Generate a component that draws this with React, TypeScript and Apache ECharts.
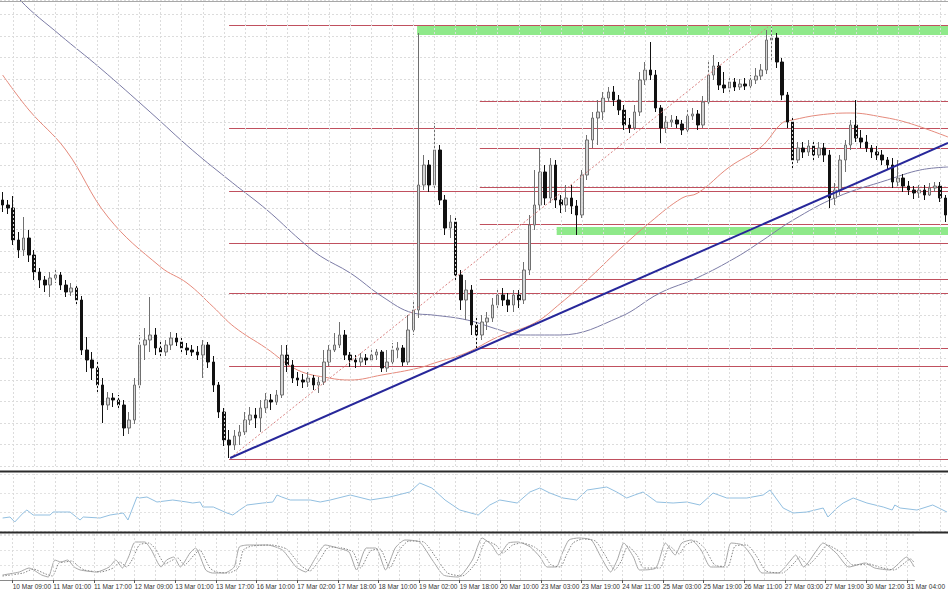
import React, { useEffect, useRef } from "react";
import * as echarts from "echarts";

// ---------- data (price units: higher = up) ----------
const BAR_COUNT = 180;

const tickLabels = [
  "10 Mar 09:00", "11 Mar 01:00", "11 Mar 17:00", "12 Mar 09:00", "13 Mar 01:00",
  "13 Mar 17:00", "16 Mar 10:00", "17 Mar 02:00", "17 Mar 18:00", "18 Mar 10:00",
  "19 Mar 02:00", "19 Mar 18:00", "20 Mar 10:00", "23 Mar 03:00", "23 Mar 19:00",
  "24 Mar 11:00", "25 Mar 03:00", "25 Mar 19:00", "26 Mar 11:00", "27 Mar 03:00",
  "27 Mar 19:00", "30 Mar 12:00", "31 Mar 04:00",
];

const opens = [
  300, 295, 292, 260, 250, 262, 245, 228, 220, 215,
  222, 225, 215, 208, 212, 200, 150, 140, 132, 115,
  95, 102, 100, 95, 72, 80, 115, 155, 160, 165,
  152, 148, 155, 162, 158, 152, 150, 148, 145, 155,
  138, 115, 88, 60, 55, 64, 68, 80, 85, 82,
  92, 100, 98, 105, 145, 135, 122, 120, 118, 122,
  115, 118, 138, 150, 155, 165, 145, 140, 138, 142,
  140, 145, 148, 132, 138, 150, 152, 138, 170, 190,
  315, 335, 315, 350, 300, 272, 278, 225, 200, 210,
  175, 165, 178, 182, 195, 205, 200, 195, 205, 200,
  230, 275, 295, 328, 302, 335, 300, 295, 302, 294,
  285, 325, 360, 382, 388, 402, 408, 400, 390, 375,
  372, 388, 420, 430, 425, 392, 372, 378, 380, 376,
  370, 384, 386, 375, 398, 425, 434, 415, 412, 418,
  413, 416, 414, 420, 424, 430, 460, 462, 438, 405,
  378, 340, 352, 348, 354, 345, 352, 345, 302, 310,
  340, 355, 375, 362, 358, 352, 348, 345, 340, 335,
  318, 322, 314, 310, 307, 310, 305, 312, 314, 302,
];

const closes = [
  295, 292, 260, 250, 262, 245, 228, 220, 215, 222,
  225, 215, 208, 212, 200, 150, 140, 132, 115, 95,
  102, 100, 95, 72, 80, 115, 155, 160, 165, 152,
  148, 155, 162, 158, 152, 150, 148, 145, 155, 138,
  115, 88, 60, 55, 64, 68, 80, 85, 82, 92,
  100, 98, 105, 145, 135, 122, 120, 118, 122, 115,
  118, 138, 150, 155, 165, 145, 140, 138, 142, 140,
  145, 148, 132, 138, 150, 152, 138, 170, 190, 315,
  335, 315, 350, 300, 272, 278, 225, 200, 210, 175,
  165, 178, 182, 195, 205, 200, 195, 205, 200, 230,
  275, 295, 328, 302, 335, 300, 295, 302, 294, 285,
  325, 360, 382, 388, 402, 408, 400, 390, 375, 372,
  388, 420, 430, 425, 392, 372, 378, 380, 376, 370,
  384, 386, 375, 398, 425, 434, 415, 412, 418, 413,
  416, 414, 420, 424, 430, 460, 462, 438, 405, 378,
  340, 352, 348, 354, 345, 352, 345, 302, 310, 340,
  355, 375, 362, 358, 352, 348, 345, 340, 335, 318,
  322, 314, 310, 307, 310, 305, 312, 314, 302, 285,
];

const highs = [
  308, 300, 304, 268, 283, 270, 250, 232, 224, 228,
  230, 228, 220, 217, 215, 204, 163, 148, 140, 122,
  108, 107, 105, 100, 88, 122, 165, 172, 203, 172,
  160, 160, 168, 167, 162, 157, 155, 154, 160, 158,
  144, 118, 92, 70, 70, 75, 88, 93, 92, 100,
  107, 106, 110, 155, 155, 140, 128, 126, 128, 125,
  123, 150, 155, 167, 178, 170, 148, 145, 147, 146,
  150, 151, 150, 150, 157, 158, 155, 185, 200, 467,
  345, 340, 377, 355, 305, 285, 282, 230, 220, 215,
  182, 185, 188, 202, 210, 212, 207, 210, 210, 238,
  285, 330, 352, 335, 342, 340, 305, 315, 315, 300,
  330, 365, 388, 400, 408, 413, 414, 405, 395, 382,
  395, 428, 438, 458, 430, 395, 384, 385, 384, 380,
  390, 392, 390, 404, 440, 445, 438, 428, 424, 422,
  421, 422, 425, 432, 436, 470, 473, 467, 442, 408,
  382, 358, 358, 360, 359, 358, 357, 350, 317, 345,
  360, 380, 400, 370, 365, 355, 354, 350, 343, 342,
  340, 326, 319, 314, 315, 315, 317, 318, 318, 305,
];

const lows = [
  288, 286, 255, 242, 244, 238, 220, 212, 208, 203,
  217, 210, 203, 204, 195, 145, 128, 120, 108, 77,
  90, 93, 90, 64, 66, 76, 110, 140, 148, 145,
  142, 144, 150, 154, 148, 145, 144, 140, 122, 132,
  108, 82, 54, 42, 50, 55, 65, 75, 72, 68,
  87, 90, 95, 102, 128, 117, 114, 112, 113, 110,
  107, 115, 134, 148, 152, 140, 133, 132, 134, 135,
  138, 140, 128, 128, 135, 142, 134, 135, 165, 182,
  310, 308, 310, 295, 265, 262, 220, 190, 180, 165,
  152, 160, 170, 178, 190, 194, 188, 188, 192, 196,
  225, 270, 290, 295, 297, 292, 287, 288, 286, 265,
  282, 320, 352, 355, 380, 398, 394, 385, 370, 367,
  370, 384, 415, 420, 388, 357, 367, 373, 372, 365,
  366, 380, 370, 372, 395, 420, 410, 407, 408, 409,
  410, 410, 412, 416, 420, 426, 440, 432, 400, 372,
  332, 337, 342, 344, 340, 342, 338, 292, 295, 305,
  328, 350, 358, 352, 348, 342, 340, 335, 330, 312,
  314, 308, 305, 301, 302, 300, 304, 308, 298, 278,
];

// moving averages: [bar index, value]
const redMA = [
  [0, 425], [5, 390], [12, 350], [20, 283], [30, 233], [35, 217], [40, 193], [44, 173],
  [50, 152], [56, 130], [62, 122], [66, 120], [72, 125], [79, 132], [82, 137], [88, 147],
  [94, 163], [101, 177], [106, 197], [111, 220], [117, 250], [123, 278], [129, 302],
  [132, 307], [138, 333], [144, 353], [148, 377], [150, 380], [155, 385], [161, 387],
  [167, 383], [172, 377], [179.5, 363],
];
const slateMA = [
  [0, 525], [3.3, 500], [10.9, 465], [18.5, 432], [28, 388], [36, 350], [43.7, 317],
  [50.2, 290], [56.5, 260], [60.3, 244], [66, 227], [72.2, 203], [77.9, 187], [81.7, 185],
  [88.2, 180], [94.4, 170], [98.2, 165], [105.8, 165], [117.2, 183], [124.8, 207],
  [131.8, 222], [139.4, 243], [144.4, 260], [150.1, 280], [158.4, 303], [168, 320],
  [174.2, 330], [179.5, 333],
];

const trendLine = [[43.2, 42], [179.5, 357]];
const fibDiagonal = [[43.2, 42], [145.3, 473]];

const fibAStart = 43;
const fibALevels = [475, 372, 309, 257.5, 207, 134, 41];
const fibBStart = 90.6;
const fibBLevels = [399, 352, 313, 276, 221, 152];

// green zones: [start bar, top, bottom]
const greenZones = [
  [78.7, 474, 465],
  [105.2, 273, 265],
];

const rsiLine = [
  [0, 13], [1.4, 14], [2.3, 9], [3.9, 18], [4.6, 21], [5.8, 16], [9, 16], [9.6, 19],
  [12.8, 19], [14.7, 11], [15.3, 14], [18.5, 13], [20.4, 16], [22.9, 18], [23.8, 11],
  [25.5, 34], [26, 33], [27.4, 34], [29.3, 29], [32.3, 31], [35, 29], [36.1, 28],
  [37.5, 29], [38, 24], [40, 24], [42.6, 18], [43.7, 16], [45, 21], [46.4, 26],
  [49.4, 28], [51.3, 29], [52.1, 36], [53, 34], [54.6, 31], [58.4, 31], [60.3, 29],
  [62.2, 31], [66, 36], [69.8, 31], [73.5, 34], [77.3, 39], [79.2, 48], [81.5, 43],
  [84, 31], [86.8, 21], [90.3, 16], [92.5, 26], [94.4, 31], [97.7, 28], [100.1, 39],
  [102, 43], [103.9, 38], [106.4, 33], [109, 31], [111, 41], [114.7, 44], [116.6, 39],
  [118.5, 33], [120, 36], [121.6, 39], [124.2, 29], [127.3, 28], [129.9, 29],
  [132.4, 26], [134.9, 38], [137.5, 33], [141.3, 33], [144.4, 36], [145.7, 41],
  [148.2, 23], [150.1, 18], [152.7, 19], [155.8, 23], [156.7, 14], [158.4, 23],
  [159.6, 28], [161.5, 33], [164.1, 28], [167.2, 24], [168.9, 21], [169.4, 26],
  [170.4, 23], [173.6, 21], [176.6, 26], [179.3, 19],
];

const stochMain = [
  [0, 5], [3.3, 8], [5.2, 12], [7.7, 5], [9, 3], [10.3, 20], [11.5, 18], [12.8, 20],
  [14.1, 13], [15.3, 10], [18.5, 8], [21, 13], [22.3, 20], [23.6, 12], [24.8, 23],
  [26.1, 38], [28, 38], [29.3, 30], [31.2, 13], [32.3, 20], [33.7, 23], [35, 13],
  [36.9, 27], [38, 32], [40, 10], [41.3, 7], [43.7, 7], [45.6, 13], [46.6, 33],
  [48.3, 35], [52.1, 35], [55.1, 30], [57.8, 13], [59.7, 8], [61.6, 22], [63.5, 35],
  [66, 32], [68.2, 28], [69.7, 10], [71.6, 32], [73.5, 32], [75.4, 10], [77.3, 32],
  [79.2, 40], [82.1, 38], [84.6, 20], [86.8, 5], [89.7, 3], [92.5, 20], [94.4, 42],
  [96.3, 35], [97.7, 25], [99.6, 37], [101.5, 38], [103.9, 33], [105.8, 23],
  [107.2, 13], [109, 13], [110.2, 27], [111.5, 40], [113.4, 42], [115.9, 40],
  [117.8, 23], [119.7, 8], [121, 20], [122.3, 37], [124.2, 23], [125.4, 10],
  [128.6, 12], [130.5, 37], [132.4, 25], [133.7, 37], [135.6, 40], [137.5, 30],
  [139.4, 13], [141.9, 13], [143.4, 37], [145.7, 35], [147.6, 23], [149.5, 7],
  [152.7, 7], [155.2, 20], [156.1, 25], [157.7, 13], [160.3, 30], [161.5, 37],
  [164.1, 27], [166.6, 13], [169.8, 17], [171.7, 12], [174.7, 10], [178, 23], [179.5, 13],
];

const stochSignal = [
  [0, 4], [4.1, 7], [6, 11], [8.5, 6], [9.8, 4], [11.1, 17], [12.3, 18], [13.6, 19],
  [14.9, 14], [16.1, 10], [19.3, 8], [21.8, 12], [23.1, 18], [24.4, 13], [25.6, 21],
  [26.9, 35], [28.8, 37], [30.1, 31], [32, 16], [33.1, 19], [34.5, 22], [35.8, 15],
  [37.7, 25], [38.8, 30], [40.8, 12], [42.1, 8], [44.5, 7], [46.4, 12], [47.4, 30],
  [49.1, 34], [52.9, 35], [55.9, 31], [58.6, 15], [60.5, 9], [62.4, 20], [64.3, 33],
  [66.8, 32], [69, 28], [70.5, 12], [72.4, 29], [74.3, 31], [76.2, 12], [78.1, 30],
  [80, 39], [82.9, 38], [85.4, 22], [87.6, 7], [90.5, 4], [93.3, 18], [95.2, 39],
  [97.1, 35], [98.5, 27], [100.4, 35], [102.3, 37], [104.7, 33], [106.6, 25],
  [108, 15], [109.8, 13], [111, 25], [112.3, 37], [114.2, 41], [116.7, 39],
  [118.6, 25], [120.5, 10], [121.8, 19], [123.1, 34], [125, 24], [126.2, 12],
  [129.4, 12], [131.3, 34], [133.2, 26], [134.5, 35], [136.4, 39], [138.3, 31],
  [140.2, 15], [142.7, 13], [144.2, 34], [146.5, 35], [148.4, 24], [150.3, 9],
  [153.5, 7], [156, 18], [156.9, 23], [158.5, 15], [161.1, 28], [162.3, 35],
  [164.9, 28], [167.4, 15], [170.6, 16], [172.5, 13], [175.5, 10], [178.8, 21], [179.5, 17],
];

// ---------- chart ----------
const XMIN = -0.5;
const XMAX = BAR_COUNT - 0.5;

export default function App() {
  const ref = useRef<HTMLDivElement>(null);

  useEffect(() => {
    const el = ref.current;
    if (!el) return;
    const chart = echarts.init(el, null, { renderer: "svg" });

    const categories = Array.from({ length: BAR_COUNT }, (_, i) => String(i));
    const isLabelBar = (i: number) => i >= 2 && (i - 2) % 8 === 0;
    const vGridTicks: number[] = [];
    for (let t = 2; t < BAR_COUNT; t += 4) vGridTicks.push(t);

    const vGrid = {
      silent: true,
      symbol: ["none", "none"],
      label: { show: false },
      lineStyle: { color: "#dcdcdc", type: [2, 2], width: 1 },
      emphasis: { disabled: true },
      animation: false,
      data: vGridTicks.map((t) => ({ xAxis: t })),
    };

    const candleData = closes.map((c, i) => [opens[i], c, lows[i], highs[i]]);

    const fibData = [
      ...fibALevels.map((v) => [fibAStart, XMAX, v]),
      ...fibBLevels.map((v) => [fibBStart, XMAX, v]),
    ];
    const greenData = greenZones.map((z) => [z[0], XMAX, z[1], z[2]]);

    const valueX = (gridIndex: number) => ({
      type: "value",
      gridIndex,
      position: "bottom",
      min: XMIN,
      max: XMAX,
      show: false,
    });

    const option: any = {
      animation: false,
      backgroundColor: "#ffffff",
      grid: [
        { left: 0, right: 0, top: 0, height: 466 },
        { left: 0, right: 0, top: 474, height: 57 },
        { left: 0, right: 0, top: 534, height: 46 },
      ],
      xAxis: [
        { type: "category", gridIndex: 0, position: "bottom", data: categories, boundaryGap: true, show: false },
        valueX(0),
        valueX(1),
        valueX(2),
        {
          type: "category",
          gridIndex: 2,
          position: "bottom",
          data: categories,
          boundaryGap: true,
          axisLine: { show: true, onZero: false, lineStyle: { color: "#8a8a8a", width: 1 } },
          axisTick: {
            show: true,
            alignWithLabel: true,
            interval: (i: number) => isLabelBar(i),
            length: 3,
            lineStyle: { color: "#555" },
          },
          axisLabel: {
            interval: (i: number) => isLabelBar(i),
            formatter: (_v: string, i: number) => tickLabels[(i - 2) / 8] ?? "",
            align: "left",
            fontSize: 6.5,
            fontFamily: "Liberation Sans, Arial, sans-serif",
            color: "#333",
            margin: 3,
          },
          splitLine: { show: false },
        },
      ],
      yAxis: [
        {
          type: "value",
          gridIndex: 0,
          min: 34,
          max: 500,
          interval: 21.5,
          axisLine: { show: false },
          axisTick: { show: false },
          axisLabel: { show: false },
          splitLine: { show: true, lineStyle: { color: "#dcdcdc", type: [2, 2] } },
        },
        {
          type: "value",
          gridIndex: 1,
          min: 0,
          max: 57,
          interval: 19,
          axisLine: { show: false },
          axisTick: { show: false },
          axisLabel: { show: false },
          splitLine: { show: true, lineStyle: { color: "#e2e2e2", type: [2, 2] } },
        },
        {
          type: "value",
          gridIndex: 2,
          min: 0,
          max: 46,
          interval: 15,
          axisLine: { show: false },
          axisTick: { show: false },
          axisLabel: { show: false },
          splitLine: { show: true, lineStyle: { color: "#e2e2e2", type: [2, 2] } },
        },
      ],
      series: [
        {
          name: "green zones",
          type: "custom",
          xAxisIndex: 1,
          yAxisIndex: 0,
          z: 1,
          clip: true,
          encode: { x: [0, 1], y: [2, 3] },
          data: greenData,
          renderItem: (_p: any, api: any) => {
            const a = api.coord([api.value(0), api.value(2)]);
            const b = api.coord([api.value(1), api.value(3)]);
            return {
              type: "rect",
              shape: { x: a[0], y: a[1], width: b[0] - a[0], height: b[1] - a[1] },
              style: { fill: "#8fe98a" },
            };
          },
        },
        {
          name: "fibo levels",
          type: "custom",
          xAxisIndex: 1,
          yAxisIndex: 0,
          z: 1,
          clip: true,
          encode: { x: [0, 1], y: 2 },
          data: fibData,
          renderItem: (_p: any, api: any) => {
            const a = api.coord([api.value(0), api.value(2)]);
            const b = api.coord([api.value(1), api.value(2)]);
            const y = Math.round(a[1]) + 0.5;
            return {
              type: "line",
              shape: { x1: a[0], y1: y, x2: b[0], y2: y },
              style: { stroke: "#c0505e", lineWidth: 1 },
            };
          },
        },
        {
          name: "MA slow",
          type: "line",
          xAxisIndex: 1,
          yAxisIndex: 0,
          z: 2,
          data: slateMA,
          smooth: 0.4,
          symbol: "none",
          lineStyle: { color: "#7c7ca6", width: 1 },
          markLine: vGrid,
        },
        {
          name: "MA fast",
          type: "line",
          xAxisIndex: 1,
          yAxisIndex: 0,
          z: 2,
          data: redMA,
          smooth: 0.4,
          symbol: "none",
          lineStyle: { color: "#e58a7c", width: 1 },
        },
        {
          name: "price",
          type: "candlestick",
          xAxisIndex: 0,
          yAxisIndex: 0,
          z: 3,
          barWidth: 3,
          data: candleData,
          itemStyle: {
            color: "#d6d6d6",
            color0: "#111111",
            borderColor: "#707070",
            borderColor0: "#111111",
            borderWidth: 1,
          },
        },
        {
          name: "fibo diagonal",
          type: "line",
          xAxisIndex: 1,
          yAxisIndex: 0,
          z: 4,
          data: fibDiagonal,
          symbol: "none",
          lineStyle: { color: "#d98080", width: 1, type: [2, 2] },
        },
        {
          name: "trend line",
          type: "line",
          xAxisIndex: 1,
          yAxisIndex: 0,
          z: 5,
          data: trendLine,
          symbol: "none",
          lineStyle: { color: "#27279a", width: 2 },
        },
        {
          name: "RSI",
          type: "line",
          xAxisIndex: 2,
          yAxisIndex: 1,
          z: 3,
          data: rsiLine,
          symbol: "none",
          lineStyle: { color: "#92bfe0", width: 1 },
          markLine: vGrid,
        },
        {
          name: "Stoch main",
          type: "line",
          xAxisIndex: 3,
          yAxisIndex: 2,
          z: 3,
          data: stochMain,
          smooth: 0.2,
          symbol: "none",
          lineStyle: { color: "#a6a6a6", width: 1 },
          markLine: vGrid,
        },
        {
          name: "Stoch signal",
          type: "line",
          xAxisIndex: 3,
          yAxisIndex: 2,
          z: 3,
          data: stochSignal,
          smooth: 0.2,
          symbol: "none",
          lineStyle: { color: "#858585", width: 1, type: [1.5, 1.5] },
        },
      ],
      graphic: [
        { type: "line", shape: { x1: 0, y1: 1.5, x2: 948, y2: 1.5 }, style: { stroke: "#a8a8a8", lineWidth: 1 }, z: 10, silent: true },
        { type: "line", shape: { x1: 0, y1: 471.5, x2: 948, y2: 471.5 }, style: { stroke: "#2a2a2a", lineWidth: 2 }, z: 10, silent: true },
        { type: "line", shape: { x1: 0, y1: 532.5, x2: 948, y2: 532.5 }, style: { stroke: "#2a2a2a", lineWidth: 2 }, z: 10, silent: true },
      ],
    };

    chart.setOption(option);
    return () => chart.dispose();
  }, []);

  return (
    <div
      ref={ref}
      style={{ position: "fixed", left: 0, top: 0, width: 948, height: 593, background: "#fff" }}
    />
  );
}
